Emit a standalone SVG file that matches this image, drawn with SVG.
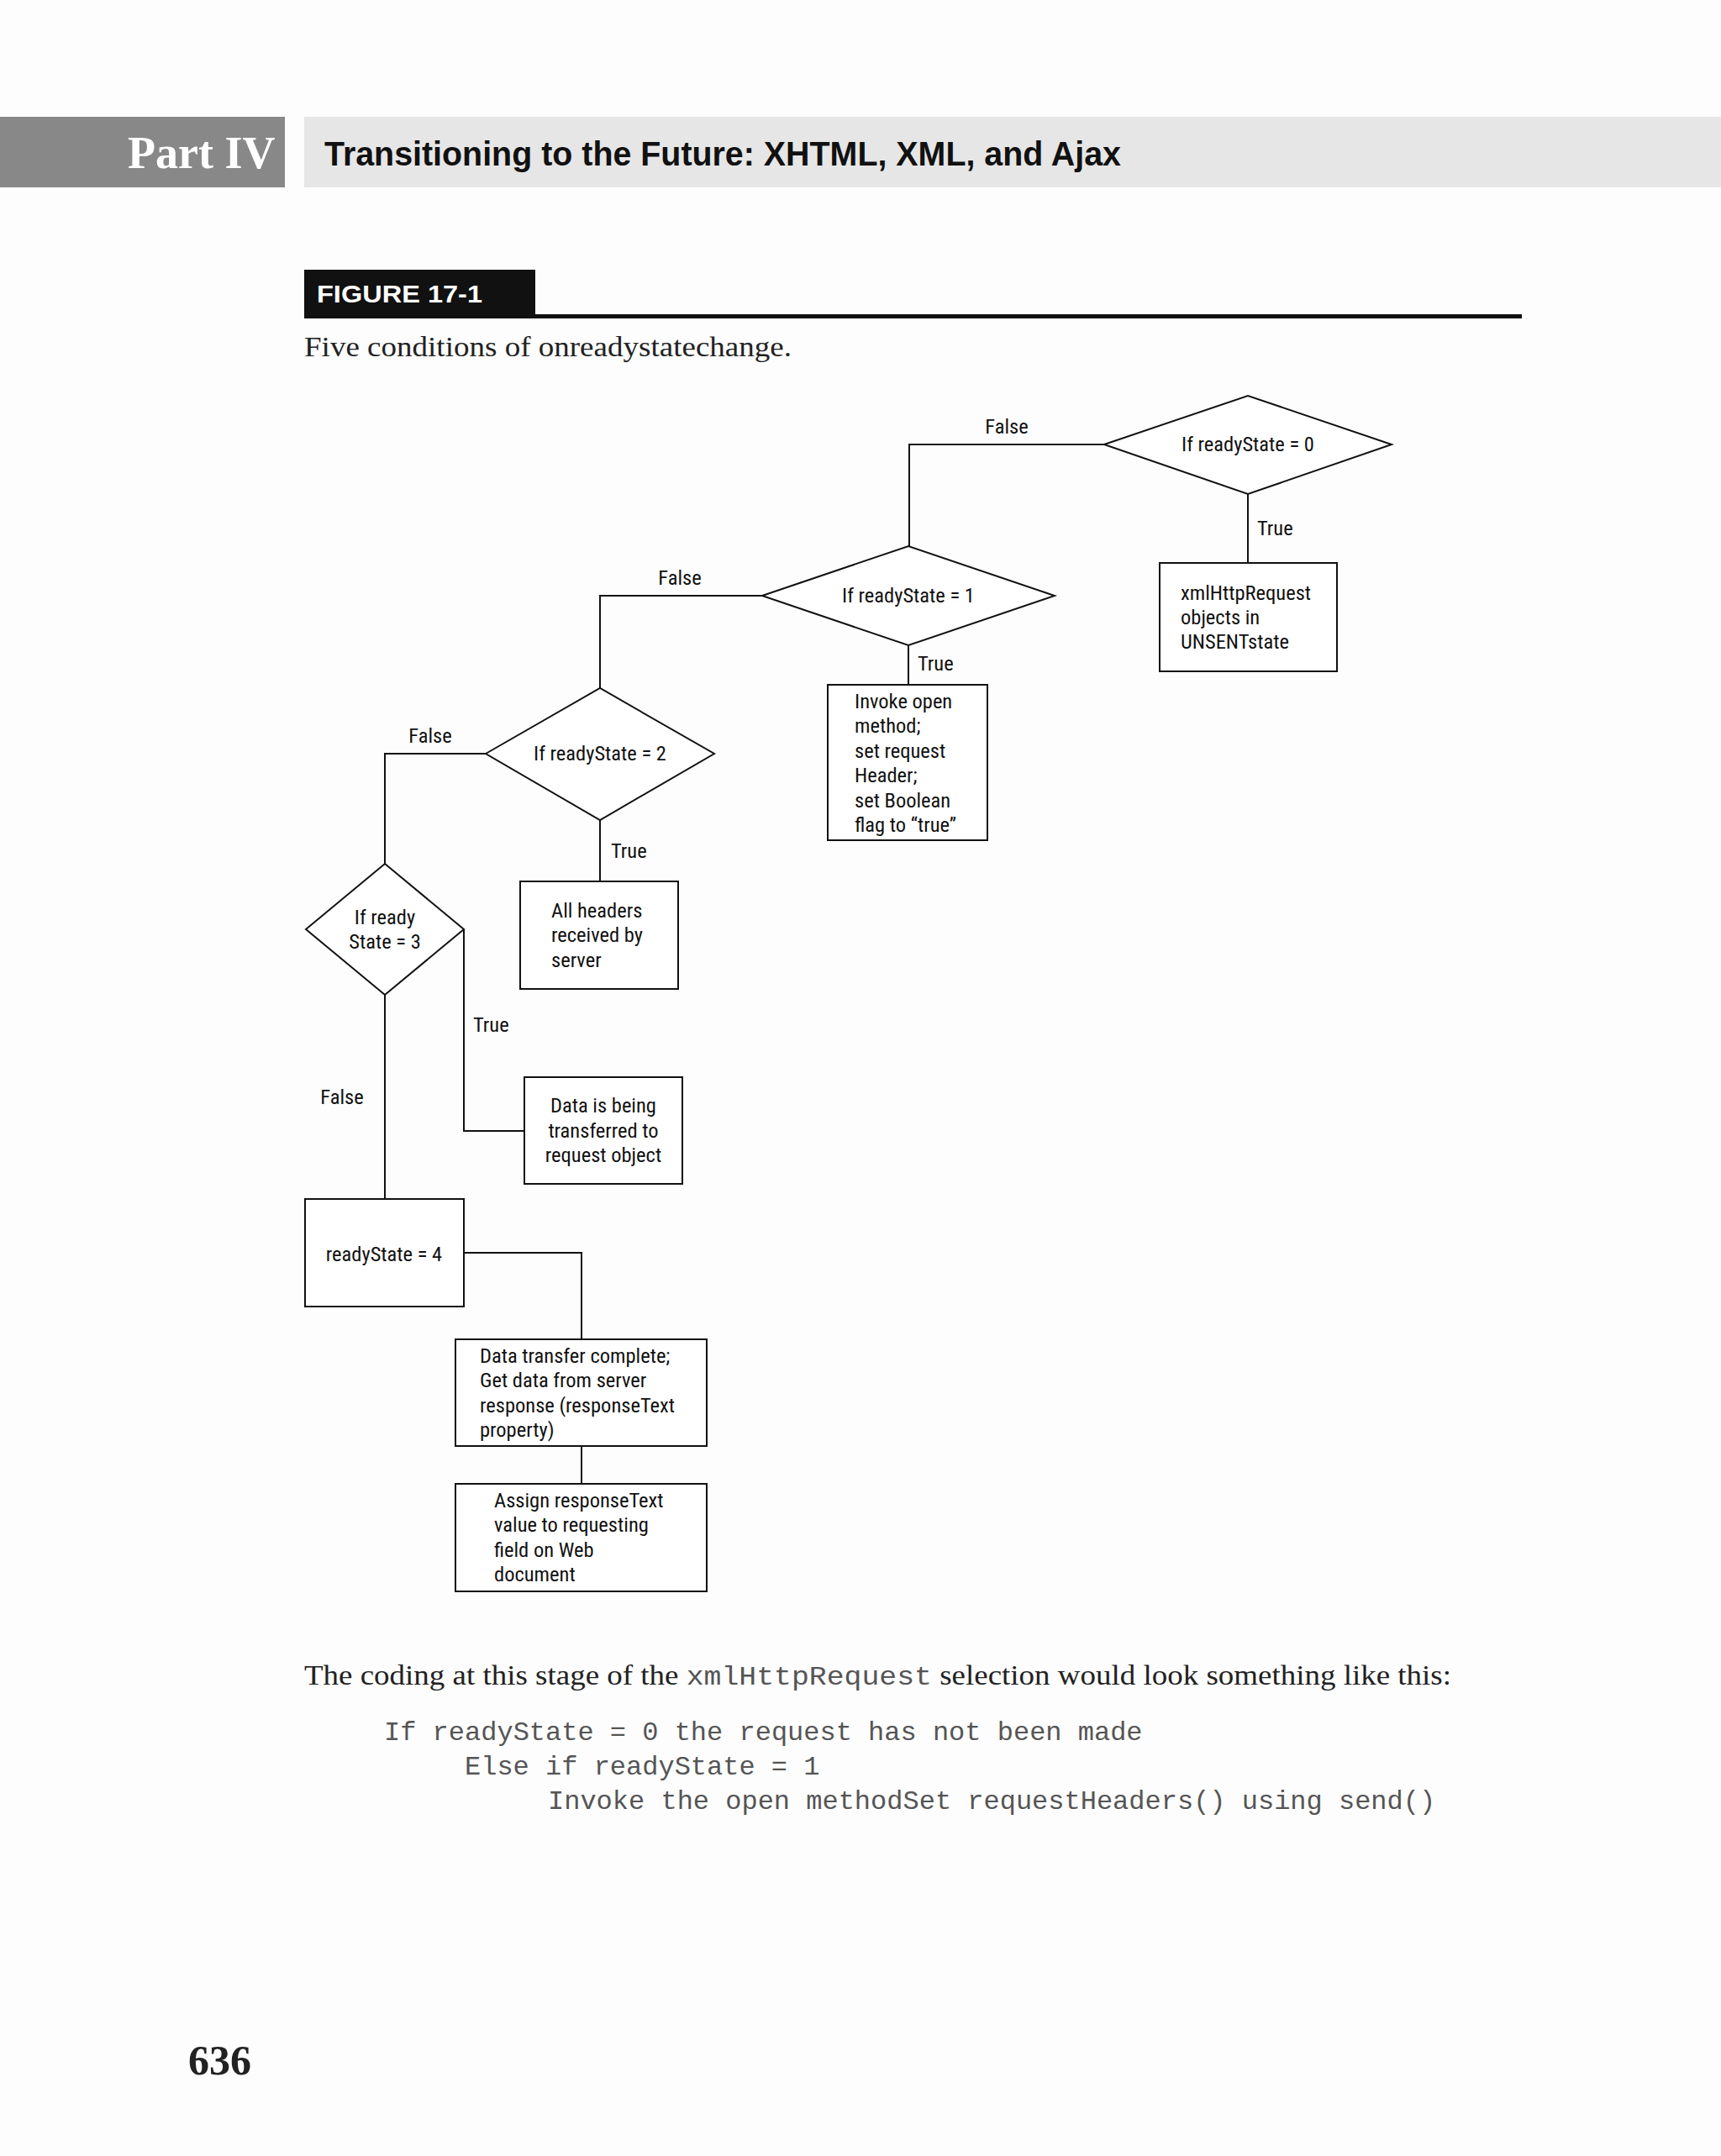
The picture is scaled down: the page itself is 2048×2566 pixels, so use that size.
<svg xmlns="http://www.w3.org/2000/svg" width="2048" height="2566" viewBox="0 0 2048 2566">
<style>
.n{fill:#fff;stroke:#111;stroke-width:2}
.c{fill:none;stroke:#111;stroke-width:2}
.t{font-family:"Liberation Sans Narrow","Roboto Condensed","Liberation Sans",sans-serif;font-size:24.5px;fill:#111}
.m{text-anchor:middle}
.s{font-family:"Liberation Serif",serif;fill:#222}
.mono{font-family:"Liberation Mono",monospace;font-size:32px;fill:#555}
</style>
<rect width="2048" height="2566" fill="#fdfdfd"/>
<rect x="0" y="139" width="339" height="84" fill="#888"/>
<rect x="362" y="139" width="1686" height="84" fill="#e6e6e6"/>
<text x="152" y="200" font-family="Liberation Serif,serif" font-size="54" font-weight="bold" fill="#fff">Part IV</text>
<text x="386" y="197" font-family="Liberation Sans Narrow,Liberation Sans,sans-serif" font-size="40" font-weight="bold" fill="#111" textLength="948" lengthAdjust="spacingAndGlyphs">Transitioning to the Future: XHTML, XML, and Ajax</text>
<rect x="362" y="321" width="275" height="56" fill="#111"/>
<text x="377" y="360" font-family="Liberation Sans,sans-serif" font-size="30" font-weight="bold" fill="#fff" textLength="197" lengthAdjust="spacingAndGlyphs">FIGURE 17-1</text>
<rect x="362" y="374" width="1449" height="5" fill="#111"/>
<text x="362" y="424" class="s" font-size="34" textLength="580" lengthAdjust="spacingAndGlyphs">Five conditions of onreadystatechange.</text>

<g id="connectors">
<polyline class="c" points="1314,529 1082,529 1082,650"/>
<line class="c" x1="1485" y1="588" x2="1485" y2="670"/>
<polyline class="c" points="907,709 714,709 714,819"/>
<line class="c" x1="1081" y1="768" x2="1081" y2="815"/>
<polyline class="c" points="578,897 458,897 458,1028"/>
<line class="c" x1="714" y1="976" x2="714" y2="1049"/>
<polyline class="c" points="552,1106 552,1346 624,1346"/>
<line class="c" x1="458" y1="1184" x2="458" y2="1427"/>
<polyline class="c" points="552,1491 692,1491 692,1594"/>
<line class="c" x1="692" y1="1721" x2="692" y2="1766"/>
<text class="t m" x="1198" y="516">False</text>
<text class="t" x="1496" y="637">True</text>
<text class="t m" x="809" y="696">False</text>
<text class="t" x="1092" y="798">True</text>
<text class="t m" x="512" y="884">False</text>
<text class="t" x="727" y="1021">True</text>
<text class="t" x="563" y="1228">True</text>
<text class="t m" x="407" y="1314">False</text>
</g>

<g id="d0"><polygon class="n" points="1314,529 1485,471 1656,529 1485,588"/><text class="t m" x="1485" y="537">If readyState = 0</text></g>
<g id="b0"><rect class="n" x="1380" y="670" width="211" height="129"/><text class="t" x="1405" y="714">xmlHttpRequest</text><text class="t" x="1405" y="743">objects in</text><text class="t" x="1405" y="772">UNSENTstate</text></g>
<g id="d1"><polygon class="n" points="907,709 1081,650 1255,709 1081,768"/><text class="t m" x="1081" y="717">If readyState = 1</text></g>
<g id="b1"><rect class="n" x="985" y="815" width="190" height="185"/>
<text class="t" x="1017" y="843">Invoke open</text><text class="t" x="1017" y="872">method;</text><text class="t" x="1017" y="902">set request</text><text class="t" x="1017" y="931">Header;</text><text class="t" x="1017" y="961">set Boolean</text><text class="t" x="1017" y="990">flag to “true”</text></g>
<g id="d2"><polygon class="n" points="578,897 714,819 850,897 714,976"/><text class="t m" x="714" y="905">If readyState = 2</text></g>
<g id="b2"><rect class="n" x="619" y="1049" width="188" height="128"/><text class="t" x="656" y="1092">All headers</text><text class="t" x="656" y="1121">received by</text><text class="t" x="656" y="1151">server</text></g>
<g id="d3"><polygon class="n" points="364,1106 458,1028 552,1106 458,1184"/><text class="t m" x="458" y="1100">If ready</text><text class="t m" x="458" y="1129">State = 3</text></g>
<g id="b3"><rect class="n" x="624" y="1282" width="188" height="127"/><text class="t m" x="718" y="1324">Data is being</text><text class="t m" x="718" y="1354">transferred to</text><text class="t m" x="718" y="1383">request object</text></g>
<g id="b4"><rect class="n" x="363" y="1427" width="189" height="128"/><text class="t m" x="457" y="1501">readyState = 4</text></g>
<g id="b5"><rect class="n" x="542" y="1594" width="299" height="127"/><text class="t" x="571" y="1622">Data transfer complete;</text><text class="t" x="571" y="1651">Get data from server</text><text class="t" x="571" y="1681">response (responseText</text><text class="t" x="571" y="1710">property)</text></g>
<g id="b6"><rect class="n" x="542" y="1766" width="299" height="128"/><text class="t" x="588" y="1794">Assign responseText</text><text class="t" x="588" y="1823">value to requesting</text><text class="t" x="588" y="1853">field on Web</text><text class="t" x="588" y="1882">document</text></g>

<text x="362" y="2005" class="s" font-size="34" textLength="1365" lengthAdjust="spacingAndGlyphs">The coding at this stage of the <tspan class="mono" font-size="30">xmlHttpRequest</tspan> selection would look something like this:</text>
<text class="mono" x="457" y="2071">If readyState = 0 the request has not been made</text>
<text class="mono" x="553" y="2112">Else if readyState = 1</text>
<text class="mono" x="652" y="2153">Invoke the open methodSet requestHeaders() using send()</text>
<text x="224" y="2469" class="s" font-size="50" font-weight="bold" fill="#111">636</text>
</svg>
